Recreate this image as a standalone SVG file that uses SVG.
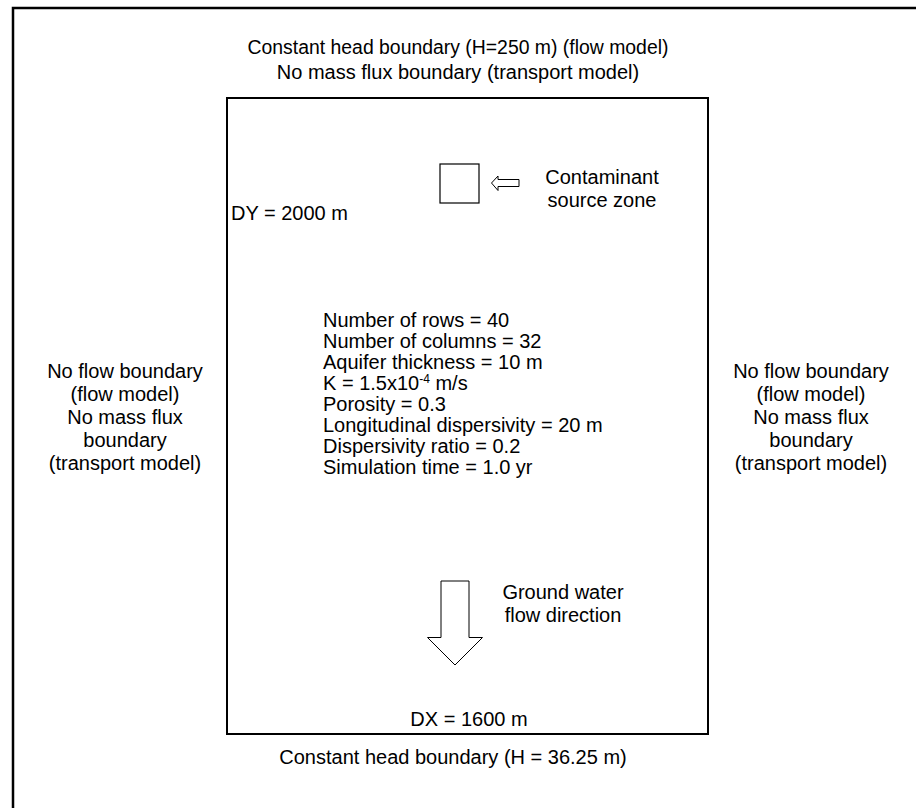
<svg xmlns="http://www.w3.org/2000/svg" width="916" height="808" viewBox="0 0 916 808">
<style>
text{font-family:"Liberation Sans",Arial,sans-serif;font-size:20px;fill:#000}
.c{text-anchor:middle}
.ln{fill:none;stroke:#000}
</style>
<rect width="916" height="808" fill="#fff"/>
<g id="frame"><path class="ln" d="M13,808 V8 H916" stroke-width="2.5"/></g>
<g id="domain"><rect class="ln" x="227" y="98" width="481" height="636" stroke-width="2"/></g>
<g id="top-label">
<text class="c" x="458" y="54" style="font-size:19.4px">Constant head boundary (H=250 m) (flow model)</text>
<text class="c" x="458" y="79">No mass flux boundary (transport model)</text>
</g>
<g id="dy"><text x="231" y="220">DY = 2000 m</text></g>
<g id="source"><rect class="ln" x="440" y="164" width="39" height="39" stroke-width="1.2"/></g>
<g id="source-label">
<text class="c" x="602" y="184">Contaminant</text>
<text class="c" x="602" y="207">source zone</text>
</g>
<g id="params">
<text x="323" y="327">Number of rows = 40</text>
<text x="323" y="348">Number of columns = 32</text>
<text x="323" y="369">Aquifer thickness = 10 m</text>
<text x="323" y="390">K = 1.5x10<tspan font-size="12" dy="-7">-4</tspan><tspan dy="7"> m/s</tspan></text>
<text x="323" y="411">Porosity = 0.3</text>
<text x="323" y="432">Longitudinal dispersivity = 20 m</text>
<text x="323" y="453">Dispersivity ratio = 0.2</text>
<text x="323" y="474">Simulation time = 1.0 yr</text>
</g>
<g id="left-label">
<text class="c" x="125" y="378">No flow boundary</text>
<text class="c" x="125" y="401">(flow model)</text>
<text class="c" x="125" y="424">No mass flux</text>
<text class="c" x="125" y="447">boundary</text>
<text class="c" x="125" y="470">(transport model)</text>
</g>
<g id="right-label">
<text class="c" x="811" y="378">No flow boundary</text>
<text class="c" x="811" y="401">(flow model)</text>
<text class="c" x="811" y="424">No mass flux</text>
<text class="c" x="811" y="447">boundary</text>
<text class="c" x="811" y="470">(transport model)</text>
</g>
<g id="flow-label">
<text class="c" x="563" y="599">Ground water</text>
<text class="c" x="563" y="622">flow direction</text>
</g>
<g id="dx"><text class="c" x="469" y="726">DX = 1600 m</text></g>
<g id="bottom-label"><text class="c" x="453" y="764">Constant head boundary (H = 36.25 m)</text></g>
<g id="connectors">
<path class="ln" stroke-width="1" d="M519,179.5 H498 V176 L491.5,183 L498,190.5 V186.5 H519 Z"/>
<path class="ln" stroke-width="1" d="M441,581 V637.5 H427.5 L455,665 L482.5,637.5 H469 V581 Z"/>
</g>
</svg>
